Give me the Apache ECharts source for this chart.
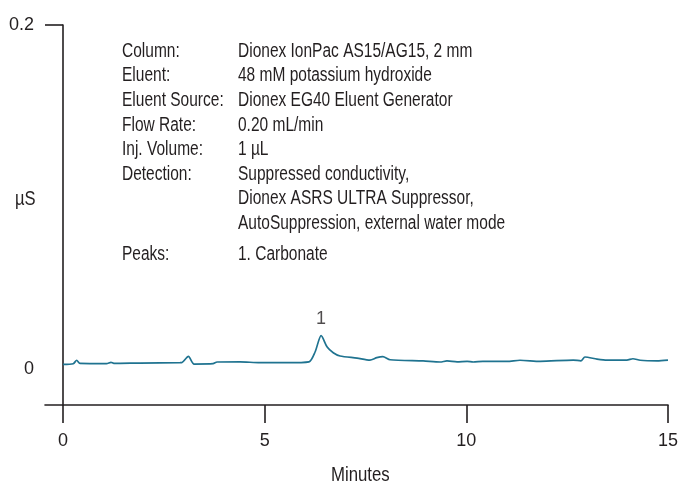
<!DOCTYPE html>
<html>
<head>
<meta charset="utf-8">
<script src="https://cdn.jsdelivr.net/npm/echarts@6/dist/echarts.min.js"></script>
<style>
html,body{margin:0;padding:0;background:#fff;}
#c{width:683px;height:484px;}
</style>
</head>
<body>
<div id="c"></div>
<script>
// Time (minutes) and signal (µS)
var times = [0, 0.255, 0.34, 0.42, 1.08, 1.19, 1.26, 1.91, 2.90, 2.95, 3.11, 3.25, 3.72, 3.82, 4.39, 4.88, 5.55, 6.10, 6.25, 6.40, 6.55, 6.70, 6.87, 7.29, 7.61, 7.78, 7.93, 8.11, 8.93, 9.35, 9.52, 9.77, 10.02, 10.17, 10.41, 11.01, 11.33, 11.83, 12.65, 12.84, 12.94, 13.24, 13.49, 13.98, 14.13, 14.31, 14.73, 15.0];
var signal = [0.0027, 0.0031, 0.0051, 0.0033, 0.0032, 0.0039, 0.0033, 0.0035, 0.0037, 0.0038, 0.0074, 0.0029, 0.0031, 0.0041, 0.0042, 0.0037, 0.0037, 0.0042, 0.0099, 0.0194, 0.0128, 0.0095, 0.0076, 0.0064, 0.0052, 0.0066, 0.0072, 0.0054, 0.0047, 0.0041, 0.0047, 0.0042, 0.0045, 0.0041, 0.0045, 0.0045, 0.0051, 0.0045, 0.0052, 0.0048, 0.0070, 0.0058, 0.0052, 0.0052, 0.0060, 0.0051, 0.0048, 0.0052];
var xTicks = [0, 5, 10, 15];
var yTickValues = [0.2];
var yLabelValues = [0, 0.2];
var peakTimes = [6.40];
var peakValues = [0.0194];
var peakNames = ['1'];
var condLabels = ['Column:', 'Eluent:', 'Eluent Source:', 'Flow Rate:', 'Inj. Volume:', 'Detection:', '', '', 'Peaks:'];
var condValues = ['Dionex IonPac AS15/AG15, 2 mm', '48 mM potassium hydroxide', 'Dionex EG40 Eluent Generator', '0.20 mL/min', '1 µL', 'Suppressed conductivity,', 'Dionex ASRS ULTRA Suppressor,', 'AutoSuppression, external water mode', '1. Carbonate'];
var condRowY = [51.5, 76, 100.5, 125.5, 150, 174.5, 199, 224, 254.5];

var FONT = '"Liberation Sans", Arial, sans-serif';
var TXT = '#231f20';
var SX = 0.795;

var graphics = [];
function addText(s, x, y, size, sx) {
  graphics.push({ type: 'text', x: x, y: y, scaleX: sx, silent: true,
    style: { text: s, font: size + 'px ' + FONT, fill: TXT, textVerticalAlign: 'middle', textAlign: 'left' } });
}
condLabels.forEach(function (s, i) { if (s) addText(s, 122, condRowY[i], 19.5, SX); });
condValues.forEach(function (s, i) { addText(s, 238, condRowY[i], 19.5, SX); });
addText('µS', 15, 200, 19.5, 0.85);
addText('Minutes', 331, 476, 19.5, 0.86);

var chart = echarts.init(document.getElementById('c'), null, { renderer: 'canvas' });
chart.setOption({
  animation: false,
  backgroundColor: '#fff',
  grid: { left: 45, right: 15, top: 25, bottom: 79, containLabel: false, outerBoundsMode: 'none' },
  xAxis: {
    type: 'value', min: -0.446, max: 15,
    splitLine: { show: false },
    axisLine: { onZero: false, lineStyle: { color: TXT, width: 1.6 } },
    axisTick: { show: true, customValues: xTicks, length: 18, lineStyle: { color: TXT, width: 1.6 } },
    axisLabel: { customValues: xTicks, margin: 27, fontFamily: FONT, fontSize: 18, color: TXT }
  },
  yAxis: {
    type: 'value', min: -0.0209, max: 0.2,
    splitLine: { show: false },
    axisLine: { show: true, onZero: true, lineStyle: { color: TXT, width: 1.6 } },
    axisTick: { show: true, customValues: yTickValues, length: 18, lineStyle: { color: TXT, width: 1.6 } },
    axisLabel: { customValues: yLabelValues, margin: 11, fontFamily: FONT, fontSize: 18, color: TXT,
      formatter: function (v) { return v === 0 ? '0' : String(v); } }
  },
  graphic: graphics,
  series: [{
    type: 'line', data: times.map(function (t, i) { return [t, signal[i]]; }),
    symbol: 'none', smooth: 0.25,
    lineStyle: { color: '#1f7390', width: 1.7 }
  }, {
    type: 'scatter', symbolSize: 1, itemStyle: { color: 'rgba(0,0,0,0)' }, silent: true,
    data: peakTimes.map(function (t, i) { return [t, peakValues[i]]; }),
    label: { show: true, position: 'top', distance: 7, fontFamily: FONT, fontSize: 18, color: TXT,
      formatter: function (p) { return peakNames[p.dataIndex]; } }
  }]
});
</script>
</body>
</html>
